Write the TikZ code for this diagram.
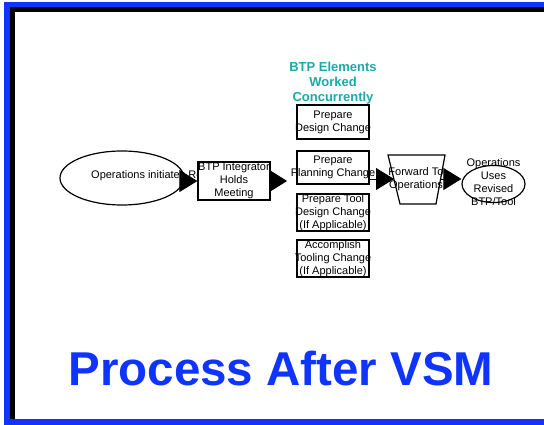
\documentclass[tikz,border=0pt]{standalone}
\usepackage{fontspec}
\setmainfont{Liberation Sans}
\usetikzlibrary{arrows.meta,shapes.geometric}
\definecolor{frameblue}{RGB}{16,52,255}
\definecolor{btpteal}{RGB}{30,168,168}
\tikzset{
  x=1pt, y=-1pt,
  shape line/.style={draw=black, line width=1.2pt},
  oval/.style={shape line, ellipse, fill=white, inner sep=0pt},
  taskbox/.style={shape line, rectangle, fill=white, minimum width=72pt, inner sep=0pt},
  small/.style={font=\fontsize{11}{12.8}\selectfont, align=center, inner sep=0pt},
  flow/.style={line width=0.8pt, -{Triangle[length=18pt,width=22pt]}},
}
\begin{document}
\begin{tikzpicture}
\useasboundingbox (0,0) rectangle (544,425);
% frame: blue border with a black inner edge on the left and top
\fill[frameblue] (4,2) rectangle (544,425);
\fill[white] (10,7) rectangle (544,419);
\fill[black] (10,7) rectangle (544,12);
\fill[black] (10,7) rectangle (15,419);

% request
\node[oval, minimum width=124pt, minimum height=54pt] (req) at (122,178) {};
\node[small, anchor=west] (reqtxt) at (91,176) {Operations initiates Request};

% integrator meeting
\node[taskbox, minimum height=38pt] (meet) at (234,181) {};
\node[small] (meettxt) at (meet) {BTP Integrator\\Holds\\Meeting};
\draw[flow] (req.east |- meet.west) -- (meet.west);
\coordinate (split) at (287,181);
\draw[line width=0.8pt, -{Triangle[length=16pt,width=20pt]}] (meet.east) -- (split);

% concurrent elements
\node[font=\fontsize{13}{15}\selectfont\bfseries, text=btpteal, align=center, inner sep=0pt] (conc) at (333,83) {BTP Elements\\Worked\\Concurrently};
\node[taskbox, minimum height=34pt] (design) at (333,122) {};
\node[small] (designtxt) at (design) {Prepare\\Design Change};
\node[taskbox, minimum height=33pt, line width=1.8pt] (plan) at (333,167.5) {};
\node[small] (plantxt) at (plan) {Prepare\\Planning Change};
\node[taskbox, minimum height=37pt] (tool) at (333,212.5) {};
\node[small] (tooltxt) at (tool) {Prepare Tool\\Design Change\\(If Applicable)};
\node[taskbox, minimum height=37pt] (tooling) at (333,258.5) {};
\node[small] (toolingtxt) at (tooling) {Accomplish\\Tooling Change\\(If Applicable)};

% forward to operations
\draw[shape line, fill=white] (388,155) -- (445,155) -- (436,204) -- (400,204) -- cycle;
\coordinate (fwdW) at (394,179);
\coordinate (fwdE) at (441,179);
\node[small] (fwdtxt) at (416,179) {Forward To\\Operations};
\draw[flow] (plan.east |- fwdW) -- (fwdW);

% operations use revised BTP/Tool
\node[oval, minimum width=63pt, minimum height=37pt] (use) at (493.5,184) {};
\node[small] (usetxt) at (493.5,182) {Operations\\Uses\\Revised\\BTP/Tool};
\draw[flow] (fwdE) -- (fwdE -| use.west);

% heading
\node[font=\fontsize{47.5}{50}\selectfont\bfseries, text=frameblue, anchor=base, inner sep=0pt] (head) at (281,385) {Process After VSM};
\end{tikzpicture}
\end{document}
